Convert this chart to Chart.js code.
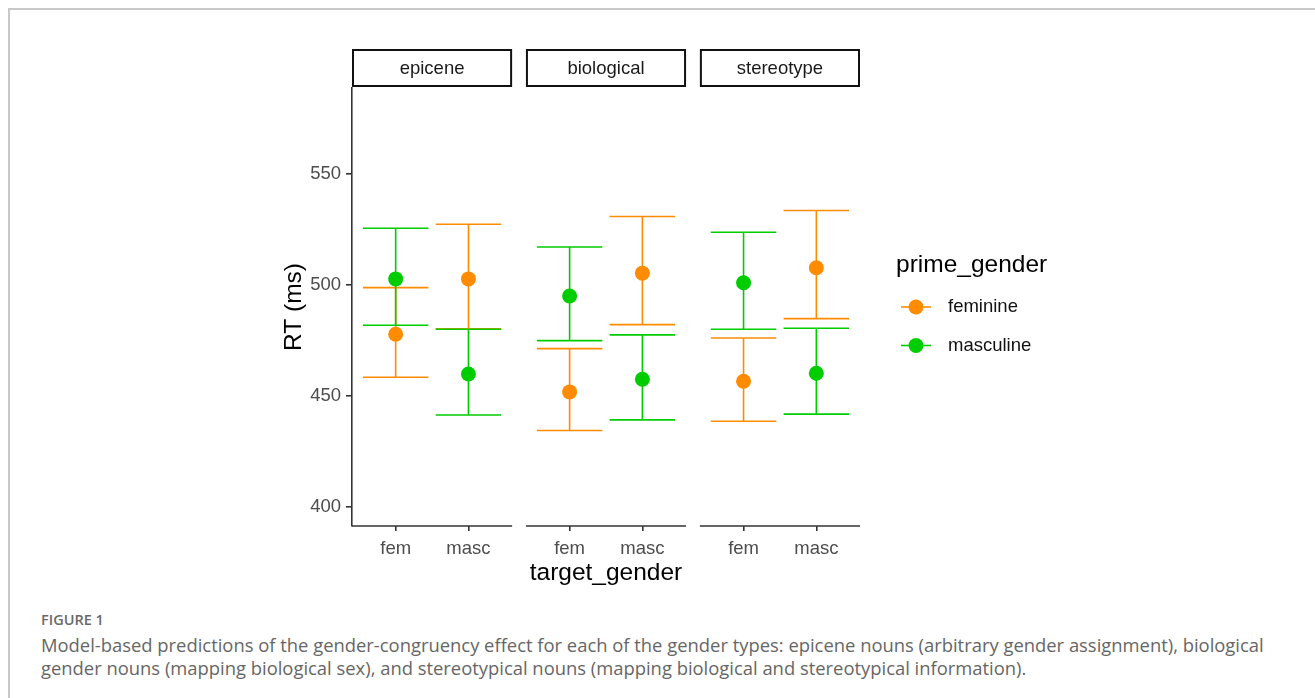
<!DOCTYPE html>
<html>
<head>
<meta charset="utf-8">
<script src="https://cdn.jsdelivr.net/npm/chart.js@4.4.1/dist/chart.umd.min.js"></script>
<style>
  body { margin: 0; background: #fff; width: 1315px; height: 698px; overflow: hidden; position: relative; }
  #frame { position: absolute; left: 8px; top: 8px; width: 1320px; height: 700px;
           border-left: 2px solid #c8c8c8; border-top: 2px solid #c8c8c8; }
  #chart { position: absolute; left: 0; top: 0; }
  .fig-label { position: absolute; left: 41px; top: 610px; font: 600 14.5px "Open Sans", sans-serif; color: #6a6a6a; }
  .fig-caption { position: absolute; left: 41px; top: 633px; font: 18.4px/23px "Open Sans", sans-serif;
                 color: #666; white-space: nowrap; }
</style>
</head>
<body>
<div id="frame"></div>
<canvas id="chart" width="1315" height="600"></canvas>
<div class="fig-label">FIGURE 1</div>
<div class="fig-caption">Model-based predictions of the gender-congruency effect for each of the gender types: epicene nouns (arbitrary gender assignment), biological<br>gender nouns (mapping biological sex), and stereotypical nouns (mapping biological and stereotypical information).</div>
<script>
// Facets and x categories
const panels = ["epicene", "biological", "stereotype"];
const targetGender = ["fem", "masc"];
const yTicks = [400, 450, 500, 550];

// Values in order: epicene fem, epicene masc, biological fem, biological masc, stereotype fem, stereotype masc
const feminineRT = [477.8, 502.7, 451.8, 505.3, 456.6, 507.7];
const feminineLow = [458.4, 480.2, 434.4, 482.1, 438.6, 484.8];
const feminineHigh = [498.8, 527.3, 471.3, 530.8, 476.1, 533.5];

const masculineRT = [502.7, 459.9, 495.0, 457.5, 501.0, 460.2];
const masculineLow = [481.8, 441.4, 474.9, 439.2, 480.0, 441.8];
const masculineHigh = [525.5, 480.0, 517.1, 477.5, 523.7, 480.5];

const orange = "#ff8c00";
const green = "#00cd00";
const axisColor = "#333333";
const tickText = "#4d4d4d";
const font = "'Liberation Sans', Arial, sans-serif";

// Each facet is a discrete range 0.4..2.6 laid side by side on one linear x scale
const panelWidth = 2.2;
const panelGap = 0.19;
const capWidth = 0.9;

function xPos(i) {
  const p = Math.floor(i / 2);
  const c = i % 2;
  return p * (panelWidth + panelGap) + 0.6 + c;
}

function makePoints(mean, low, high) {
  return mean.map(function (v, i) {
    return { x: xPos(i), y: v, low: low[i], high: high[i] };
  });
}

const tickPositions = feminineRT.map(function (v, i) { return xPos(i); });

// Error bars are drawn under all points, as in ggplot
const errorBarPlugin = {
  id: "errorBars",
  beforeDatasetsDraw(chart) {
    const ctx = chart.ctx;
    const x = chart.scales.x;
    const y = chart.scales.y;
    chart.data.datasets.forEach(function (ds) {
      ctx.save();
      ctx.strokeStyle = ds.backgroundColor;
      ctx.lineWidth = 1.6;
      ds.data.forEach(function (d) {
        const px = x.getPixelForValue(d.x);
        const x0 = x.getPixelForValue(d.x - capWidth / 2);
        const x1 = x.getPixelForValue(d.x + capWidth / 2);
        const top = y.getPixelForValue(d.high);
        const bot = y.getPixelForValue(d.low);
        ctx.beginPath();
        ctx.moveTo(px, top); ctx.lineTo(px, bot);
        ctx.moveTo(x0, top); ctx.lineTo(x1, top);
        ctx.moveTo(x0, bot); ctx.lineTo(x1, bot);
        ctx.stroke();
      });
      ctx.restore();
    });
  }
};

// Facet strips, broken x axis lines and the legend
const facetPlugin = {
  id: "facets",
  afterDraw(chart) {
    const ctx = chart.ctx;
    const x = chart.scales.x;
    const area = chart.chartArea;
    ctx.save();
    panels.forEach(function (name, p) {
      const start = p * (panelWidth + panelGap);
      const left = x.getPixelForValue(start);
      const right = x.getPixelForValue(start + panelWidth);
      ctx.strokeStyle = "#111";
      ctx.lineWidth = 2;
      ctx.strokeRect(left + 1, 50, right - left - 2, 36);
      ctx.fillStyle = "#1a1a1a";
      ctx.font = "18.5px " + font;
      ctx.textAlign = "center";
      ctx.textBaseline = "middle";
      ctx.fillText(name, (left + right) / 2, 69);
      ctx.strokeStyle = axisColor;
      ctx.lineWidth = 1.6;
      ctx.beginPath();
      ctx.moveTo(left, area.bottom);
      ctx.lineTo(right, area.bottom);
      ctx.stroke();
    });

    // legend
    ctx.textAlign = "left";
    ctx.textBaseline = "middle";
    ctx.fillStyle = "#000";
    ctx.font = "24.5px " + font;
    ctx.fillText("prime_gender", 896, 265);
    chart.data.datasets.forEach(function (ds, i) {
      const cy = 307 + i * 38.5;
      ctx.strokeStyle = ds.backgroundColor;
      ctx.lineWidth = 1.6;
      ctx.beginPath();
      ctx.moveTo(901, cy); ctx.lineTo(931, cy);
      ctx.stroke();
      ctx.fillStyle = ds.backgroundColor;
      ctx.beginPath();
      ctx.arc(916, cy, 7.5, 0, Math.PI * 2);
      ctx.fill();
      ctx.fillStyle = "#111";
      ctx.font = "18.5px " + font;
      ctx.fillText(ds.label, 948, cy);
    });
    ctx.restore();
  }
};

new Chart(document.getElementById("chart").getContext("2d"), {
  type: "scatter",
  data: {
    datasets: [
      {
        label: "feminine",
        data: makePoints(feminineRT, feminineLow, feminineHigh),
        backgroundColor: orange,
        pointRadius: 7.5,
        pointBorderWidth: 0,
      },
      {
        label: "masculine",
        data: makePoints(masculineRT, masculineLow, masculineHigh),
        backgroundColor: green,
        pointRadius: 7.5,
        pointBorderWidth: 0,
      },
    ],
  },
  options: {
    responsive: false,
    animation: false,
    layout: { padding: { left: 276, top: 88, right: 455, bottom: 8 } },
    plugins: {
      legend: { display: false },
      tooltip: { enabled: false },
    },
    scales: {
      x: {
        type: "linear",
        min: 0,
        max: 3 * panelWidth + 2 * panelGap,
        afterBuildTicks: function (scale) {
          scale.ticks = tickPositions.map(function (v) { return { value: v }; });
        },
        afterFit: function (scale) { scale.height = 66; },
        ticks: {
          autoSkip: false,
          maxRotation: 0,
          padding: 7,
          color: tickText,
          font: { family: font, size: 18.5 },
          callback: function (v, i) { return targetGender[i % 2]; },
        },
        grid: { drawOnChartArea: false, drawTicks: true, tickLength: 5, color: axisColor, lineWidth: 1.6 },
        border: { display: false },
        title: { display: true, text: "target_gender", color: "#000", font: { family: font, size: 24.5 } },
      },
      y: {
        min: 391.4,
        max: 588.7,
        afterBuildTicks: function (scale) {
          scale.ticks = yTicks.map(function (v) { return { value: v }; });
        },
        afterFit: function (scale) { scale.width = 76; },
        ticks: { padding: 5, color: tickText, font: { family: font, size: 18.5 } },
        grid: { drawOnChartArea: false, drawTicks: true, tickLength: 6, color: axisColor, lineWidth: 1.6 },
        border: { display: true, color: axisColor, width: 1.6 },
        title: { display: true, text: "RT (ms)", color: "#000", font: { family: font, size: 24.5 } },
      },
    },
  },
  plugins: [errorBarPlugin, facetPlugin],
});
</script>
</body>
</html>
